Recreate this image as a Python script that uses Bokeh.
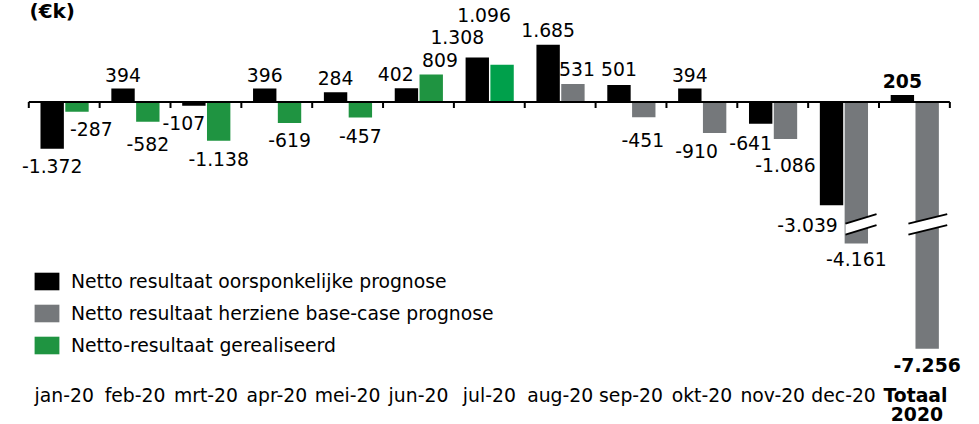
from bokeh.plotting import figure
from bokeh.models import Range1d, Legend, LegendItem, ColumnDataSource
from bokeh.core.properties import value
from bokeh.embed import file_html
from bokeh.resources import INLINE

# ---------------- data ----------------
title = "(€k)"
categories = ["jan-20", "feb-20", "mrt-20", "apr-20", "mei-20", "jun-20", "jul-20",
              "aug-20", "sep-20", "okt-20", "nov-20", "dec-20", "Totaal\n2020"]
original = [-1372, 394, -107, 396, 284, 402, 1308, 1685, 501, 394, -641, -3039, 205]
realised = [-287, -582, -1138, -619, -457, 809, 1096]          # jan-20 .. jul-20
revised = [531, -451, -910, -1086, -4161, -7256]               # aug-20 .. Totaal 2020
series_names = ["Netto resultaat oorsponkelijke prognose",
                "Netto resultaat herziene base-case prognose",
                "Netto-resultaat gerealiseerd"]

# ---------------- layout / style ----------------
W, H = 979, 424
X0_PX = 28.3          # left edge of first category (px)
CAT_PX = 70.85        # category width (px)
ZERO_PX = 101.5       # y of zero line from top (px)
PX_PER_UNIT = 0.034   # vertical scale
BAR_W = 0.33
OFF_A, OFF_B = 0.33, 0.68
FONT = "DejaVu Sans"
FS = "18.8px"
CAP = 13.7
BASE_FIX = -7         # correction for rendered alphabetic baseline

BLACK = "#000000"
GRAY = "#75787b"
GREEN_DARK = "#1f9441"
GREEN = "#00a04b"
realised_colors = [GREEN_DARK] * 6 + [GREEN]

# label nudges (px): horizontal shift and gap to bar end
orig_dx = [0, 0, -10, 0, 0, -10.7, -20, 0, 0, 0, -10, -24, 0]
orig_gap = [11, 7, 11, 7, 7.8, 7.8, 13.7, 8.2, 8.5, 7, 12.7, 12.5, 7]
real_dx = [14.3, 0, 0, 0, 0, 8.7, -18]
real_gap = [10.4, 16, 11.5, 10.5, 11.3, 7.3, 42.5]
rev_dx = [4, -1, -18, 0, 0, 0]
rev_gap = [7.5, 16, 11.6, 19, 8.7, 10]

n = len(categories)
n_real = len(realised)

x_start = -X0_PX / CAT_PX
x_end = (W - X0_PX) / CAT_PX
y_start = -(H - ZERO_PX) / PX_PER_UNIT
y_end = ZERO_PX / PX_PER_UNIT

p = figure(width=W, height=H, x_range=Range1d(x_start, x_end), y_range=Range1d(y_start, y_end),
           output_backend="svg", toolbar_location=None,
           x_axis_location=None, y_axis_location=None, min_border=0)
p.outline_line_color = None
p.grid.visible = False
p.background_fill_color = "white"
p.border_fill_color = "white"


def fmt(v):
    s = f"{abs(v):,}".replace(",", ".")
    return ("-" if v < 0 else "") + s


# ---------------- bars ----------------
x_orig = [i + OFF_A for i in range(n)]
x_real = [i + OFF_B for i in range(n_real)]
x_rev = [i + OFF_B for i in range(n_real, n)]

r_orig = p.vbar(x=x_orig, top=original, bottom=0, width=BAR_W, fill_color=BLACK, line_color=None)
r_real = p.vbar(x=x_real, top=realised, bottom=0, width=BAR_W, fill_color=realised_colors, line_color=None)
r_rev = p.vbar(x=x_rev, top=revised, bottom=0, width=BAR_W, fill_color=GRAY, line_color=None)

# ---------------- axis break marks on the two long grey bars ----------------
BREAK_VAL = -3600
BREAK_GAP_PX = 11
BREAK_RISE_PX = 9.5
break_bars = [11, 12]
break_ext = [(OFF_B - BAR_W / 2 + 0.012, OFF_B + BAR_W / 2 + 0.12),
             (OFF_B - BAR_W / 2 - 0.1, OFF_B + BAR_W / 2 + 0.118)]
for b, (l, r) in zip(break_bars, break_ext):
    xl, xr = b + l, b + r
    g = BREAK_GAP_PX / 2 / PX_PER_UNIT
    rise = BREAK_RISE_PX / 2 / PX_PER_UNIT
    up_l, up_r = BREAK_VAL + g - rise, BREAK_VAL + g + rise
    lo_l, lo_r = BREAK_VAL - g - rise, BREAK_VAL - g + rise
    p.patch([xl, xr, xr, xl], [up_l, up_r, lo_r, lo_l], fill_color="white", line_color=None)
    p.line([xl, xr], [up_l, up_r], line_color="black", line_width=2)
    p.line([xl, xr], [lo_l, lo_r], line_color="black", line_width=2)

# ---------------- zero line with ticks ----------------
p.segment(x0=[0], x1=[n], y0=[0], y1=[0], line_color="black", line_width=2)
bounds = list(range(n + 1))
p.segment(x0=bounds, x1=bounds, y0=[0] * len(bounds), y1=[-6 / PX_PER_UNIT] * len(bounds),
          line_color="black", line_width=2)


# ---------------- data labels ----------------
def label_source(xs, vals, dxs, gaps):
    return ColumnDataSource(dict(
        x=xs, y=vals, text=[fmt(v) for v in vals], dx=dxs,
        dy=[(-g if v >= 0 else g + CAP) + BASE_FIX for v, g in zip(vals, gaps)]))


normal_sets = [
    (x_orig[:-1], original[:-1], orig_dx[:-1], orig_gap[:-1]),
    (x_real, realised, real_dx, real_gap),
    (x_rev[:-1], revised[:-1], rev_dx[:-1], rev_gap[:-1]),
]
for xs, vals, dxs, gaps in normal_sets:
    p.text(x="x", y="y", text="text", x_offset="dx", y_offset="dy", source=label_source(xs, vals, dxs, gaps),
           text_font=value(FONT), text_font_size=FS, text_align="center", text_baseline="alphabetic",
           text_color="black")

bold_src = label_source([x_orig[-1], x_rev[-1]], [original[-1], revised[-1]],
                        [orig_dx[-1], rev_dx[-1]], [orig_gap[-1], rev_gap[-1]])
p.text(x="x", y="y", text="text", x_offset="dx", y_offset="dy", source=bold_src,
       text_font=value(FONT), text_font_size=FS, text_font_style="bold",
       text_align="center", text_baseline="alphabetic", text_color="black")

# ---------------- category labels ----------------
CAT_BASE_PX = 401.5
LINE_PX = 19
p.text(x=[i + 0.5 for i in range(n - 1)], y=[y_start] * (n - 1), text=categories[:-1],
       y_offset=-(H - CAT_BASE_PX) + BASE_FIX, text_font=value(FONT), text_font_size=FS,
       text_align="center", text_baseline="alphabetic", text_color="black")
tot_lines = categories[-1].split("\n")
p.text(x=[n - 0.5] * len(tot_lines), y=[y_start] * len(tot_lines), text=tot_lines,
       y_offset=[-(H - CAT_BASE_PX - k * LINE_PX) + BASE_FIX for k in range(len(tot_lines))],
       x_offset=[1, 2.5],
       text_font=value(FONT), text_font_size=FS, text_font_style="bold",
       text_align="center", text_baseline="alphabetic", text_color="black")

# ---------------- title ----------------
p.text(x=[x_start], y=[y_end], text=[title], x_offset=29, y_offset=-2,
       text_font=value(FONT), text_font_size="20px", text_font_style="bold",
       text_align="left", text_baseline="top", text_color="black")

# ---------------- legend ----------------
legend = Legend(items=[LegendItem(label=series_names[0], renderers=[r_orig]),
                       LegendItem(label=series_names[1], renderers=[r_rev]),
                       LegendItem(label=series_names[2], renderers=[r_real])],
                location=(31, 68), orientation="vertical",
                glyph_width=31, glyph_height=22, label_standoff=9, spacing=10,
                padding=0, margin=0, border_line_color=None, background_fill_alpha=0,
                label_text_font=FONT, label_text_font_size=FS, label_text_color="black")
p.add_layout(legend)

open("out.html", "w").write(file_html(p, INLINE))
